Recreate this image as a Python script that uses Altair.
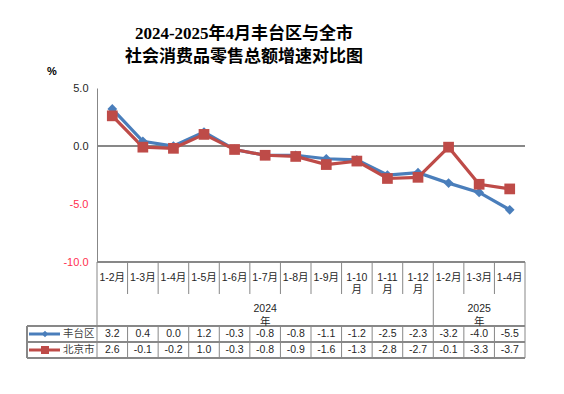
import altair as alt
import pandas as pd

# ---------------- data ----------------
YEARS = ["2024"] * 11 + ["2025"] * 3
MONTHS = ["1-2月", "1-3月", "1-4月", "1-5月", "1-6月", "1-7月", "1-8月", "1-9月",
          "1-10月", "1-11月", "1-12月", "1-2月", "1-3月", "1-4月"]
FENGTAI = [3.2, 0.4, 0.0, 1.2, -0.3, -0.8, -0.8, -1.1, -1.2, -2.5, -2.3, -3.2, -4.0, -5.5]
BEIJING = [2.6, -0.1, -0.2, 1.0, -0.3, -0.8, -0.9, -1.6, -1.3, -2.8, -2.7, -0.1, -3.3, -3.7]
SERIES = ["丰台区", "北京市"]
COLORS = ["#4a7ebb", "#be4b48"]
SHAPES = ["diamond", "square"]
TITLE = ["2024-2025年4月丰台区与全市", "社会消费品零售总额增速对比图"]
Y_TICKS = [-10, -5, 0, 5]
UNIT = "%"

# ---------------- layout ----------------
W, H = 428, 174
ROW_CAT_BOT = 206
ROW_DATA_TOP = 238
ROW_MID = 254
ROW_BOT = 270
LEG_LEFT = -70
GRID = "#878787"
FONT = "Liberation Sans, Noto Sans CJK SC"
CJK = "Noto Sans CJK SC"

n = len(MONTHS)
idx = list(range(n))
df = pd.DataFrame({
    "i": idx,
    "year": YEARS,
    "month": MONTHS,
    "label": [m if len(m) <= 4 else m[:-1] + "\n" + m[-1] for m in MONTHS],
    "ft": [f"{v:.1f}" for v in FENGTAI],
    "bj": [f"{v:.1f}" for v in BEIJING],
})
long = pd.concat([
    pd.DataFrame({"i": idx, "series": SERIES[0], "value": FENGTAI}),
    pd.DataFrame({"i": idx, "series": SERIES[1], "value": BEIJING}),
], ignore_index=True)

bounds = pd.DataFrame({"b": [k - 0.5 for k in range(n + 1)]})
yr = df.groupby("year")["i"].agg(["min", "max", "mean"]).reset_index()
year_bounds = pd.DataFrame({"b": sorted(set([v - 0.5 for v in yr["min"]] + [v + 0.5 for v in yr["max"]]))})
year_lab = pd.DataFrame({"i": yr["mean"], "text": [y + "\n年" for y in yr["year"]]})

X = alt.X("i:Q", scale=alt.Scale(domain=[-0.5, n - 0.5], nice=False, zero=False), axis=None)
XB = alt.X("b:Q", scale=alt.Scale(domain=[-0.5, n - 0.5], nice=False, zero=False), axis=None)
Y = alt.Y("value:Q",
          scale=alt.Scale(domain=[min(Y_TICKS), max(Y_TICKS)], nice=False, zero=False),
          axis=alt.Axis(values=Y_TICKS, title=None, grid=False, ticks=False,
                        domainColor=GRID, labelFontSize=11, labelFont=FONT, labelPadding=9,
                        labelExpr="replace(format(datum.value, '.1f'), '\u2212', '-')",
                        labelColor=alt.condition("datum.value < 0", alt.value("#ff2f4f"), alt.value("#262626"))))

color = alt.Color("series:N", scale=alt.Scale(domain=SERIES, range=COLORS), legend=None)

zero = alt.Chart(df).mark_rule(color=GRID, strokeWidth=1).encode(y=alt.datum(0))
bottom = alt.Chart(df).mark_rule(color=GRID, strokeWidth=1).encode(y=alt.datum(min(Y_TICKS)))

lines = alt.Chart(long).mark_line(strokeWidth=3.2).encode(x=X, y=Y, color=color, order="i:Q")
points = alt.Chart(long).mark_point(filled=True, opacity=1).encode(
    x=X, y=Y, color=color,
    shape=alt.Shape("series:N", scale=alt.Scale(domain=SERIES, range=SHAPES), legend=None),
    size=alt.Size("series:N", scale=alt.Scale(domain=SERIES, range=[95, 115]), legend=None),
)

layers = [zero, bottom, lines, points]

# table: vertical lines
layers.append(alt.Chart(bounds).mark_rule(color=GRID).encode(x=XB, y=alt.value(H), y2=alt.value(ROW_CAT_BOT)))
layers.append(alt.Chart(bounds).mark_rule(color=GRID).encode(x=XB, y=alt.value(ROW_DATA_TOP), y2=alt.value(ROW_BOT)))
layers.append(alt.Chart(year_bounds).mark_rule(color=GRID).encode(x=XB, y=alt.value(ROW_CAT_BOT), y2=alt.value(ROW_DATA_TOP)))
layers.append(alt.Chart(df).mark_rule(color=GRID).encode(x=alt.value(LEG_LEFT), y=alt.value(ROW_DATA_TOP), y2=alt.value(ROW_BOT)))
# table: horizontal lines
for yy in [ROW_DATA_TOP, ROW_MID, ROW_BOT]:
    layers.append(alt.Chart(df).mark_rule(color=GRID).encode(x=alt.value(LEG_LEFT), x2=alt.value(W), y=alt.value(yy)))

# category labels
layers.append(alt.Chart(df).mark_text(lineBreak="\n", lineHeight=12, fontSize=10.5, font=FONT,
                                      color="#262626", baseline="middle").encode(
    x=X, y=alt.value((H + ROW_CAT_BOT) / 2), text="label:N"))
# year labels
layers.append(alt.Chart(year_lab).mark_text(lineBreak="\n", lineHeight=13, fontSize=10.5, font=FONT,
                                            color="#262626", baseline="middle").encode(
    x=X, y=alt.value((ROW_CAT_BOT + ROW_DATA_TOP) / 2 - 1), text="text:N"))
# values
for col, yy in [("ft", (ROW_DATA_TOP + ROW_MID) / 2), ("bj", (ROW_MID + ROW_BOT) / 2)]:
    layers.append(alt.Chart(df).mark_text(fontSize=10.5, font=FONT, color="#262626", baseline="middle").encode(
        x=X, y=alt.value(yy), text=f"{col}:N"))

# legend keys inside table
for s, c, sh, yy in zip(SERIES, COLORS, SHAPES, [(ROW_DATA_TOP + ROW_MID) / 2, (ROW_MID + ROW_BOT) / 2]):
    leg = pd.DataFrame({"s": [s]})
    layers.append(alt.Chart(leg).mark_rule(color=c, strokeWidth=3).encode(
        x=alt.value(LEG_LEFT + 2), x2=alt.value(LEG_LEFT + 33), y=alt.value(yy)))
    layers.append(alt.Chart(leg).mark_point(shape=sh, filled=True, opacity=1, color=c,
                                            size=40 if sh == "diamond" else 64).encode(
        x=alt.value(LEG_LEFT + 18), y=alt.value(yy)))
    layers.append(alt.Chart(leg).mark_text(align="left", baseline="middle", fontSize=10.5, font=CJK,
                                           color="#404040").encode(
        x=alt.value(LEG_LEFT + 36), y=alt.value(yy), text="s:N"))

# unit and title
layers.append(alt.Chart(pd.DataFrame({"t": [UNIT]})).mark_text(fontSize=11, fontWeight="bold", font=FONT,
                                                               color="#000000").encode(
    x=alt.value(-45), y=alt.value(-16), text="t:N"))
for k, t in enumerate(TITLE):
    layers.append(alt.Chart(pd.DataFrame({"t": [t]})).mark_text(
        fontSize=17, fontWeight="bold", font="Liberation Serif, Noto Sans CJK SC", color="#000000",
        baseline="middle").encode(x=alt.value(147), y=alt.value(-54 + 23 * k), text="t:N"))

chart = alt.layer(*layers).properties(
    width=W, height=H,
    padding={"left": 89, "top": 80, "right": 30, "bottom": 100},
    autosize=alt.AutoSizeParams(type="none"),
    background="white",
).configure_view(stroke=None)

chart.save("out.html", embed_options={"renderer": "svg", "actions": False})
